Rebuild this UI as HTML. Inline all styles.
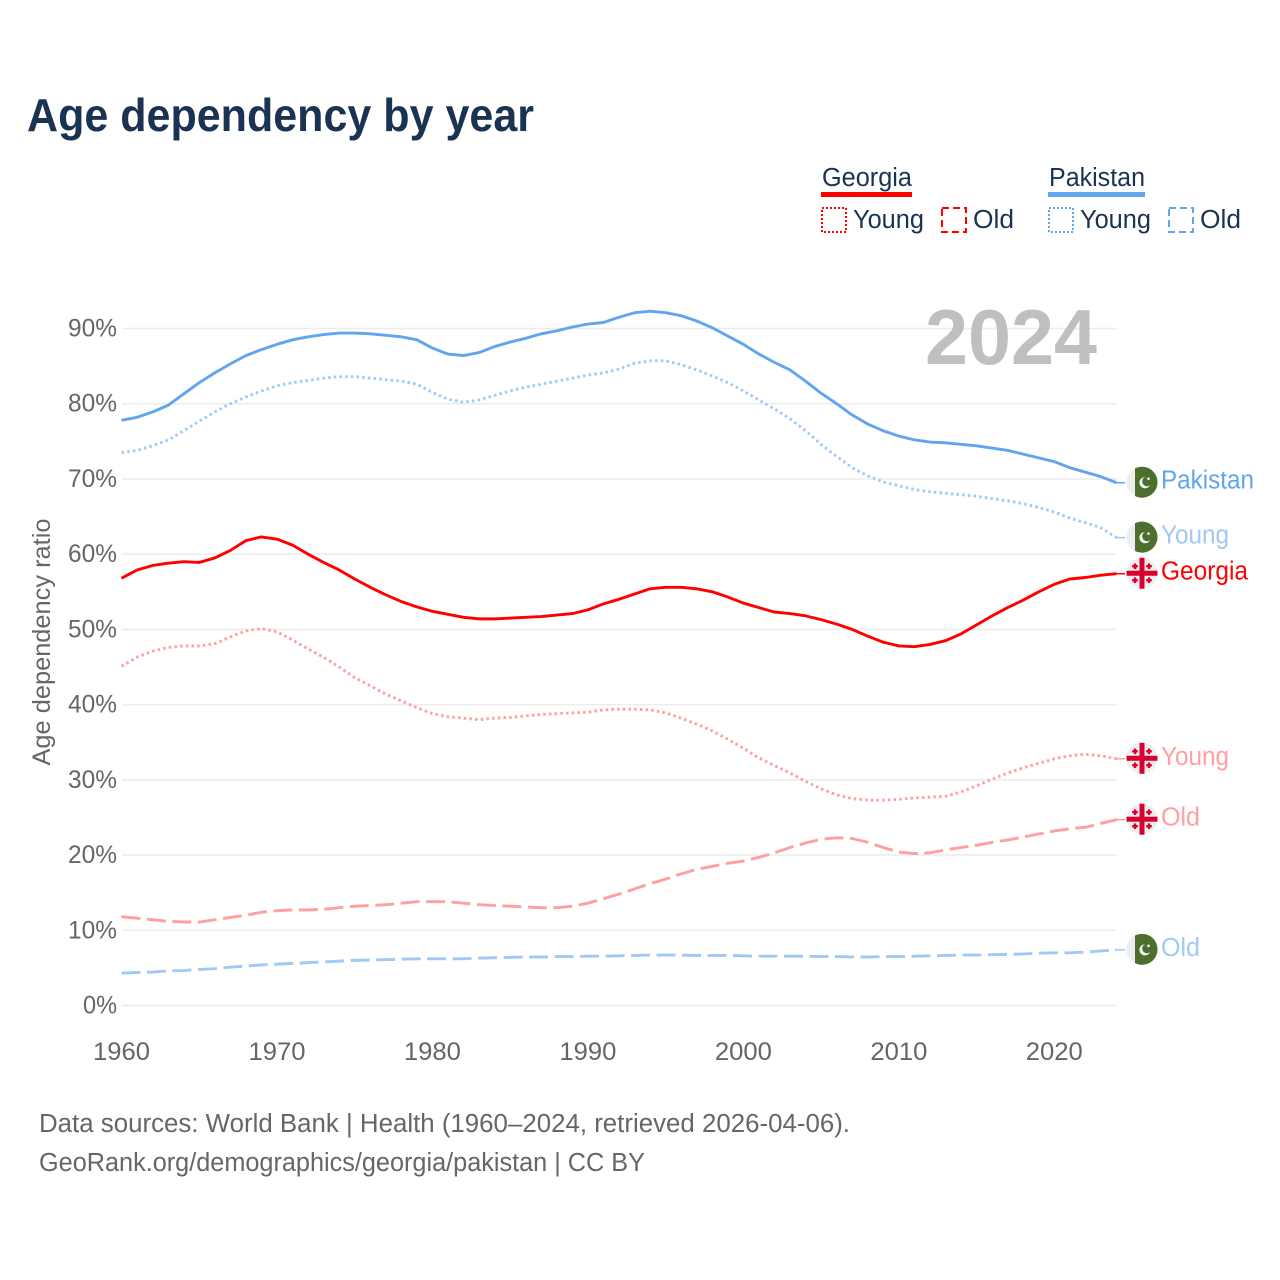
<!DOCTYPE html>
<html lang="en">
<head>
<meta charset="utf-8">
<title>Age dependency by year</title>
<style>
html,body{margin:0;padding:0;background:#fff;width:1280px;height:1280px;overflow:hidden}
svg{display:block}
text{font-family:"Liberation Sans",sans-serif}
</style>
</head>
<body>
<svg id="chart" width="1280" height="1280" viewBox="0 0 1280 1280" xmlns="http://www.w3.org/2000/svg">
  <rect width="1280" height="1280" fill="#fff"/>
  <text x="27" y="131" font-size="46" font-weight="700" fill="#1a3352" textLength="507" lengthAdjust="spacingAndGlyphs">Age dependency by year</text>

  <g font-size="25.5" fill="#1a3352">
    <text x="822" y="186" textLength="90" lengthAdjust="spacingAndGlyphs">Georgia</text>
    <rect x="821" y="192" width="91" height="5" fill="#ff0000"/>
    <rect x="822" y="208" width="24" height="24" fill="none" stroke="#ff0000" stroke-width="2" stroke-dasharray="2 2"/>
    <text x="853" y="228" textLength="71" lengthAdjust="spacingAndGlyphs">Young</text>
    <rect x="942" y="208" width="24" height="24" fill="none" stroke="#ff0000" stroke-width="2" stroke-dasharray="7 4"/>
    <text x="973" y="228" textLength="41" lengthAdjust="spacingAndGlyphs">Old</text>
    <text x="1049" y="186" textLength="96" lengthAdjust="spacingAndGlyphs">Pakistan</text>
    <rect x="1048" y="192" width="97" height="5" fill="#60a5ee"/>
    <rect x="1049" y="208" width="24" height="24" fill="none" stroke="#60a5ee" stroke-width="2" stroke-dasharray="2 2"/>
    <text x="1080" y="228" textLength="71" lengthAdjust="spacingAndGlyphs">Young</text>
    <rect x="1169" y="208" width="24" height="24" fill="none" stroke="#60a5ee" stroke-width="2" stroke-dasharray="7 4"/>
    <text x="1200" y="228" textLength="41" lengthAdjust="spacingAndGlyphs">Old</text>
  </g>

  <g id="grid"></g>
  <g id="yticks"></g>
  <g id="xticks"></g>

  <text x="925" y="364" font-size="78" font-weight="700" fill="#bfbfbf" textLength="172" lengthAdjust="spacingAndGlyphs">2024</text>
  <text transform="translate(50,642) rotate(-90)" text-anchor="middle" font-size="25" fill="#666" textLength="247" lengthAdjust="spacingAndGlyphs">Age dependency ratio</text>

  <g id="series"></g>
  <g id="endcaps"></g>

  <text x="39" y="1132" font-size="25.5" fill="#666" textLength="811" lengthAdjust="spacingAndGlyphs">Data sources: World Bank | Health (1960–2024, retrieved 2026-04-06).</text>
  <text x="39" y="1171" font-size="25.5" fill="#666" textLength="606" lengthAdjust="spacingAndGlyphs">GeoRank.org/demographics/georgia/pakistan | CC BY</text>
</svg>
<script>
const startYear = 1960;
const yTickValues = [0, 10, 20, 30, 40, 50, 60, 70, 80, 90];
const yTickLabels = ["0%", "10%", "20%", "30%", "40%", "50%", "60%", "70%", "80%", "90%"];
const xTickValues = [1960, 1970, 1980, 1990, 2000, 2010, 2020];
const xTickLabels = ["1960", "1970", "1980", "1990", "2000", "2010", "2020"];

const pakistanTotal = [77.8,78.2,78.9,79.8,81.3,82.8,84.1,85.3,86.4,87.2,87.9,88.5,88.9,89.2,89.4,89.4,89.3,89.1,88.9,88.5,87.4,86.6,86.4,86.8,87.6,88.2,88.7,89.3,89.7,90.2,90.6,90.8,91.5,92.1,92.3,92.1,91.7,91.0,90.1,89.0,87.9,86.6,85.5,84.5,83.0,81.4,80.0,78.5,77.3,76.4,75.7,75.2,74.9,74.8,74.6,74.4,74.1,73.8,73.3,72.8,72.3,71.5,70.9,70.3,69.5];
const pakistanYoung = [73.5,73.8,74.4,75.2,76.4,77.7,78.9,80.0,80.9,81.7,82.4,82.8,83.1,83.4,83.6,83.6,83.4,83.2,83.0,82.6,81.5,80.6,80.2,80.5,81.1,81.7,82.2,82.6,83.0,83.4,83.8,84.1,84.6,85.4,85.7,85.7,85.2,84.5,83.7,82.8,81.7,80.5,79.3,78.0,76.4,74.6,73.0,71.5,70.4,69.6,69.1,68.6,68.3,68.1,67.9,67.7,67.4,67.1,66.7,66.2,65.6,64.8,64.2,63.5,62.2];
const pakistanOld = [4.3,4.4,4.45,4.6,4.65,4.8,4.9,5.1,5.25,5.4,5.5,5.6,5.7,5.8,5.9,6.0,6.05,6.1,6.15,6.2,6.2,6.2,6.2,6.3,6.35,6.4,6.45,6.45,6.5,6.5,6.55,6.55,6.6,6.65,6.7,6.7,6.7,6.65,6.65,6.65,6.6,6.55,6.55,6.55,6.55,6.5,6.5,6.45,6.45,6.5,6.5,6.55,6.6,6.65,6.7,6.7,6.75,6.8,6.85,6.95,7.0,7.0,7.1,7.25,7.4];
const georgiaTotal = [56.8,57.9,58.5,58.8,59.0,58.9,59.5,60.5,61.8,62.3,62.0,61.2,60.0,58.9,57.9,56.7,55.6,54.6,53.7,53.0,52.4,52.0,51.6,51.4,51.4,51.5,51.6,51.7,51.9,52.1,52.6,53.4,54.0,54.7,55.4,55.6,55.6,55.4,55.0,54.3,53.5,52.9,52.3,52.1,51.8,51.3,50.7,50.0,49.1,48.3,47.8,47.7,48.0,48.5,49.4,50.6,51.8,52.9,53.9,55.0,56.0,56.7,56.9,57.2,57.4];
const georgiaYoung = [45.1,46.3,47.1,47.6,47.8,47.8,48.1,49.0,49.8,50.1,49.7,48.6,47.4,46.3,45.0,43.6,42.5,41.4,40.5,39.6,38.8,38.4,38.2,38.0,38.2,38.3,38.5,38.7,38.8,38.9,39.0,39.3,39.4,39.4,39.3,38.9,38.2,37.4,36.5,35.4,34.2,32.9,31.9,30.9,29.8,28.8,28.0,27.5,27.3,27.3,27.4,27.6,27.7,27.8,28.4,29.2,30.1,30.9,31.6,32.2,32.8,33.2,33.4,33.2,32.8];
const georgiaOld = [11.8,11.6,11.4,11.2,11.1,11.1,11.4,11.7,12.0,12.4,12.6,12.7,12.7,12.8,13.0,13.2,13.3,13.4,13.6,13.8,13.8,13.8,13.6,13.4,13.3,13.2,13.1,13.0,13.0,13.2,13.6,14.2,14.8,15.5,16.2,16.8,17.5,18.1,18.5,18.9,19.2,19.7,20.3,21.0,21.6,22.1,22.3,22.2,21.7,21.0,20.4,20.2,20.3,20.7,21.0,21.3,21.7,22.0,22.4,22.8,23.2,23.5,23.7,24.2,24.7];

const NS = "http://www.w3.org/2000/svg";
function xScale(year) { return 121.5 + (year - 1960) * 15.547; }
function yScale(v) { return 1005.5 - v * 7.522; }
function make(tag, attrs, parent, txt) {
  const el = document.createElementNS(NS, tag);
  for (const k in attrs) el.setAttribute(k, attrs[k]);
  if (txt !== undefined) el.textContent = txt;
  parent.appendChild(el);
  return el;
}

const grid = document.getElementById("grid");
const yticks = document.getElementById("yticks");
const xticks = document.getElementById("xticks");
yTickValues.forEach(function (v, i) {
  const line = make("line", {x1: 122, x2: 1117, y1: yScale(v), y2: yScale(v), stroke: "#ececec", "stroke-width": 1.5}, grid);
  
  
  const label = make("text", {x: 117, y: yScale(v) + 8, "text-anchor": "end", "font-size": 25, fill: "#666", textLength: yTickLabels[i].length === 2 ? 34 : 49, lengthAdjust: "spacingAndGlyphs"}, yticks, yTickLabels[i]);
  
  
});
xTickValues.forEach(function (v, i) {
  const label = make("text", {x: xScale(v), y: 1060, "text-anchor": "middle", "font-size": 25, fill: "#666", textLength: 57, lengthAdjust: "spacingAndGlyphs"}, xticks, xTickLabels[i]);
  
  
});

const RED = "#ff0000", BLUE = "#60a5ee", LRED = "#ff9f9f", LBLUE = "#a0c9f5";
const DOT = "2.5 3.2", DASH = "19 6.5";
const seriesList = [
  {name: "pakistan-old", values: pakistanOld, color: LBLUE, dash: DASH, flag: "pk", label: "Old", w: 39},
  {name: "georgia-old", values: georgiaOld, color: LRED, dash: DASH, flag: "ge", label: "Old", w: 39},
  {name: "georgia-young", values: georgiaYoung, color: LRED, dash: DOT, flag: "ge", label: "Young", w: 68},
  {name: "georgia-total", values: georgiaTotal, color: RED, dash: "", flag: "ge", label: "Georgia", w: 87},
  {name: "pakistan-young", values: pakistanYoung, color: LBLUE, dash: DOT, flag: "pk", label: "Young", w: 68},
  {name: "pakistan-total", values: pakistanTotal, color: BLUE, dash: "", flag: "pk", label: "Pakistan", w: 93}
];

const seriesG = document.getElementById("series");
const capsG = document.getElementById("endcaps");

function drawFlag(kind, cy, parent) {
  const cx = 1142, r = 15.5;
  const g = make("g", {}, parent);
  
  
  make("circle", {cx: cx, cy: cy, r: r, fill: "#eeeeee"}, g);
  if (kind === "pk") {
    const xs = cx - 7;
    const dy = Math.sqrt(r * r - 49);
    make("path", {d: "M" + xs + " " + (cy - dy) + " A" + r + " " + r + " 0 1 1 " + xs + " " + (cy + dy) + " Z", fill: "#4c6f2d"}, g);
    make("circle", {cx: cx + 3, cy: cy + 0.5, r: 5.6, fill: "#f2f5ee"}, g);
    make("circle", {cx: cx + 5, cy: cy - 0.8, r: 4.8, fill: "#4c6f2d"}, g);
    make("circle", {cx: cx + 6.5, cy: cy - 3.5, r: 1.3, fill: "#f2f5ee"}, g);
  } else {
    const red = "#d9002f";
    make("rect", {x: cx - 2.5, y: cy - r, width: 5, height: 2 * r, fill: red}, g);
    make("rect", {x: cx - r, y: cy - 2.5, width: 2 * r, height: 5, fill: red}, g);
    [[-7, -7], [7, -7], [-7, 7], [7, 7]].forEach(function (o) {
      make("rect", {x: cx + o[0] - 1.2, y: cy + o[1] - 2.8, width: 2.4, height: 5.6, fill: red}, g);
      make("rect", {x: cx + o[0] - 2.8, y: cy + o[1] - 1.2, width: 5.6, height: 2.4, fill: red}, g);
    });
  }
}

seriesList.forEach(function (s) {
  const pts = s.values.map(function (v, i) {
    return xScale(startYear + i).toFixed(2) + "," + yScale(v).toFixed(2);
  });
  const attrs = {points: pts.join(" "), fill: "none", stroke: s.color, "stroke-width": 2.9, "stroke-linejoin": "round"};
  if (s.dash) attrs["stroke-dasharray"] = s.dash;
  const line = make("polyline", attrs, seriesG);
  
  

  const lastY = yScale(s.values[s.values.length - 1]);
  const stem = make("line", {x1: xScale(startYear + s.values.length - 1), x2: 1125, y1: lastY, y2: lastY, stroke: s.color, "stroke-width": 1.5}, capsG);
  
  

  drawFlag(s.flag, lastY - 0.5, capsG);

  const label = make("text", {x: 1161, y: lastY + 6, "font-size": 25.5, fill: s.color, textLength: s.w, lengthAdjust: "spacingAndGlyphs"}, capsG, s.label);
  
  
});
</script>
</body>
</html>
